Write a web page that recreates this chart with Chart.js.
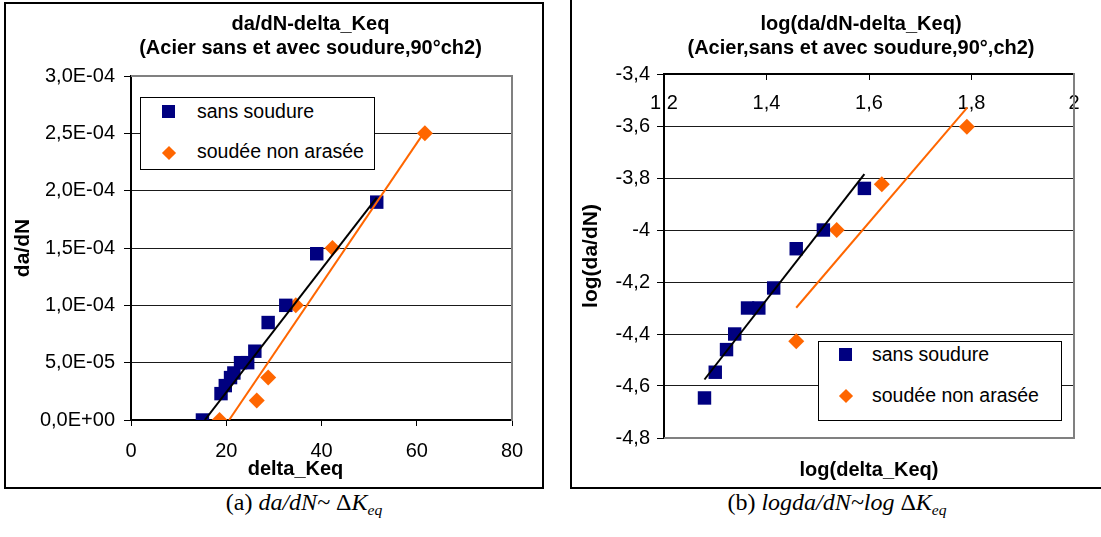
<!DOCTYPE html>
<html lang="fr">
<head>
<meta charset="utf-8">
<title>da/dN - delta_Keq</title>
<script src="https://cdn.jsdelivr.net/npm/chart.js@4.4.0/dist/chart.umd.min.js"></script>
<style>
  body { margin:0; width:1101px; height:537px; overflow:hidden; background:#fff; position:relative;
         font-family:"Liberation Sans", Arial, sans-serif; }
  .cadre { position:absolute; border:2px solid #000; box-sizing:border-box; }
  #cadreA { left:4px; top:2px; width:540px; height:487px; }
  #cadreB { left:570px; top:-2px; width:540px; height:491px; }
  canvas { position:absolute; }
  #grapheA { left:6px; top:4px; }
  #grapheB { left:572px; top:0px; }
  .legende { position:absolute; border:1px solid #000; background:#fff; box-sizing:border-box; }
  .legende span { position:absolute; white-space:nowrap; font-size:19.5px; line-height:19.5px; color:#000; }
  .legende .carre { width:13px; height:13px; background:#000080; }
  .legende .losange { width:10px; height:10px; background:#FF6600; transform:rotate(45deg); }
  #legA { left:140px; top:97px; width:235px; height:73px; }
  #legB { left:818px; top:341px; width:244px; height:80px; }
  .legende-fig { position:absolute; top:490px; width:300px; text-align:center; white-space:nowrap;
                 font-family:"Liberation Serif", "Times New Roman", serif; font-size:24px; line-height:24px; }
  .legende-fig sub { font-size:0.65em; vertical-align:-0.35em; line-height:0; }
</style>
</head>
<body>
<div class="cadre" id="cadreA"></div>
<div class="cadre" id="cadreB"></div>
<canvas id="grapheA" width="536" height="483"></canvas>
<canvas id="grapheB" width="529" height="487"></canvas>

<div class="legende" id="legA">
  <span class="carre" style="left:21px; top:7px;"></span>
  <span style="left:56px; top:4px;">sans soudure</span>
  <span class="losange" style="left:23px; top:50px;"></span>
  <span style="left:56px; top:44px;">soudée non arasée</span>
</div>
<div class="legende" id="legB">
  <span class="carre" style="left:20px; top:6px;"></span>
  <span style="left:53px; top:3px;">sans soudure</span>
  <span class="losange" style="left:22px; top:49px;"></span>
  <span style="left:53px; top:44px;">soudée non arasée</span>
</div>

<div class="legende-fig" style="left:154px;">(a) <i>da/dN~</i> Δ<i>K<sub>eq</sub></i></div>
<div class="legende-fig" style="left:687px;">(b) <i>logda/dN~log</i> Δ<i>K<sub>eq</sub></i></div>

<script>
// ---- graphe (a) : da/dN en fonction de delta_Keq ----
const keqSans = [15.0, 18.9, 19.8, 20.9, 21.6, 23.0, 24.5, 26.0, 28.8, 32.5, 39.0, 51.6];
const dadnSans = [0, 2.3e-5, 3.0e-5, 3.7e-5, 4.1e-5, 5.0e-5, 5.0e-5, 6.0e-5, 8.5e-5, 1.0e-4, 1.45e-4, 1.9e-4];
const keqSoudee = [18.6, 26.4, 28.8, 34.6, 42.3, 61.7];
const dadnSoudee = [0, 1.7e-5, 3.7e-5, 1.0e-4, 1.5e-4, 2.5e-4];
// droites de tendance (extremites)
const tendSansKeq = [15.5, 51.6];
const tendSansDadn = [0, 1.94e-4];
const tendSoudeeKeq = [20.6, 61.9];
const tendSoudeeDadn = [0, 2.53e-4];

// ---- graphe (b) : log(da/dN) en fonction de log(delta_Keq) ----
const logKeqSans = [1.279, 1.300, 1.322, 1.338, 1.363, 1.385, 1.414, 1.458, 1.511, 1.591];
const logDadnSans = [-4.646, -4.547, -4.46, -4.40, -4.30, -4.30, -4.223, -4.072, -4.00, -3.84];
const logKeqSoudee = [1.458, 1.537, 1.625, 1.791];
const logDadnSoudee = [-4.428, -4.00, -3.824, -3.603];
const tendLogSansKeq = [1.279, 1.591];
const tendLogSansDadn = [-4.575, -3.785];
const tendLogSoudeeKeq = [1.458, 1.792];
const tendLogSoudeeDadn = [-4.299, -3.528];

// graduations
const ticksAx = [0, 20, 40, 60, 80];
const ticksAy = [0, 5e-5, 1e-4, 1.5e-4, 2e-4, 2.5e-4, 3e-4];
const etiqAy = ['0,0E+00', '5,0E-05', '1,0E-04', '1,5E-04', '2,0E-04', '2,5E-04', '3,0E-04'];
const ticksBx = [1.2, 1.4, 1.6, 1.8, 2];
const etiqBx = ['1,2', '1,4', '1,6', '1,8', '2'];
const ticksBy = [-4.8, -4.6, -4.4, -4.2, -4, -3.8, -3.6, -3.4];
const etiqBy = ['-4,8', '-4,6', '-4,4', '-4,2', '-4', '-3,8', '-3,6', '-3,4'];

const police = '"Liberation Sans", Arial, sans-serif';
Chart.defaults.font.family = police;
Chart.defaults.color = '#000';

function pts(xs, ys) {
  return xs.map((x, i) => ({ x: x, y: ys[i] }));
}

// cadre gris de la zone de tracé (cotés choisis)
const cadreGris = {
  id: 'cadreGris',
  beforeDatasetsDraw(chart, args, opts) {
    const ctx = chart.ctx, a = chart.chartArea;
    ctx.save();
    ctx.strokeStyle = '#808080';
    ctx.lineWidth = 2;
    ctx.beginPath();
    (opts.cotes || []).forEach(function (c) {
      if (c == 'haut') { ctx.moveTo(a.left, a.top); ctx.lineTo(a.right + 1, a.top); }
      if (c == 'droite') { ctx.moveTo(a.right, a.top - 1); ctx.lineTo(a.right, a.bottom + 1); }
      if (c == 'bas') { ctx.moveTo(a.left, a.bottom); ctx.lineTo(a.right + 1, a.bottom); }
    });
    ctx.stroke();
    ctx.restore();
  }
};

// titres décalés comme dans Excel (le titre n'est pas centré sur la zone de tracé)
const titresDecales = {
  id: 'titresDecales',
  afterLayout(chart, args, opts) {
    if (opts.titre && chart.titleBlock) {
      chart.titleBlock.left += opts.titre;
      chart.titleBlock.right += opts.titre;
    }
  },
  afterDraw(chart, args, opts) {
    const t = opts.titreX;
    if (!t) return;
    const ctx = chart.ctx, a = chart.chartArea;
    ctx.save();
    ctx.font = 'bold 20px ' + police;
    ctx.fillStyle = '#000';
    ctx.textAlign = 'center';
    ctx.textBaseline = 'middle';
    ctx.fillText(t.texte, (a.left + a.right) / 2 + t.dx, chart.scales.x.bottom - t.bas);
    ctx.restore();
  }
};

function jeux(tSx, tSy, tWx, tWy, sx, sy, wx, wy) {
  return [
    { data: pts(tSx, tSy), showLine: true, borderColor: '#000', borderWidth: 2, pointRadius: 0 },
    { data: pts(tWx, tWy), showLine: true, borderColor: '#FF6600', borderWidth: 2, pointRadius: 0 },
    { label: 'sans soudure', data: pts(sx, sy), pointStyle: 'rect', pointRadius: 9.5,
      backgroundColor: '#000080', borderColor: '#000080', borderWidth: 0 },
    { label: 'soudée non arasée', data: pts(wx, wy), pointStyle: 'rectRot', pointRadius: 8,
      backgroundColor: '#FF6600', borderColor: '#FF6600', borderWidth: 0 }
  ];
}

const fontTick = { family: police, size: 20 };
const fontTitre = { family: police, size: 20, weight: 'bold' };
const fontTitreY = { family: police, size: 21, weight: 'bold' };

// Graphe (a)
new Chart(document.getElementById('grapheA'), {
  type: 'scatter',
  data: { datasets: jeux(tendSansKeq, tendSansDadn, tendSoudeeKeq, tendSoudeeDadn,
                         keqSans, dadnSans, keqSoudee, dadnSoudee) },
  options: {
    responsive: false,
    animation: false,
    layout: { padding: { left: 0, right: 30, top: 0, bottom: 0 } },
    plugins: {
      legend: { display: false },
      tooltip: { enabled: false },
      title: {
        display: true, fullSize: false, color: '#000',
        text: ['da/dN-delta_Keq', '(Acier sans et avec soudure,90°ch2)'],
        font: { family: police, size: 20, weight: 'bold', lineHeight: 1.2 },
        padding: { top: 8.1, bottom: 15.9 }
      },
      cadreGris: { cotes: ['haut', 'droite'] },
      titresDecales: { titre: -11, titreX: { texte: 'delta_Keq', dx: -26, bas: 18 } }
    },
    scales: {
      x: {
        type: 'linear', position: 'bottom', min: 0, max: 80,
        afterBuildTicks: s => { s.ticks = ticksAx.map(v => ({ value: v })); },
        afterFit: s => { s.height = 67; },
        grid: { drawOnChartArea: false, color: '#000', tickLength: 6 },
        border: { color: '#000', width: 2 },
        ticks: { color: '#000', font: fontTick, padding: 13, maxRotation: 0, autoSkip: false }
      },
      y: {
        type: 'linear', min: 0, max: 3e-4,
        afterBuildTicks: s => { s.ticks = ticksAy.map(v => ({ value: v })); },
        afterFit: s => { s.width = 125; },
        grid: { color: '#1a1a1a', tickColor: '#000', tickLength: 7 },
        border: { color: '#000', width: 2 },
        ticks: { color: '#000', font: fontTick, padding: 9, autoSkip: false, callback: (v, i) => etiqAy[i] },
        title: { display: true, text: 'da/dN', color: '#000', font: fontTitreY, padding: { top: 4.4, bottom: 0 } }
      }
    }
  },
  plugins: [cadreGris, titresDecales]
});

// Graphe (b)
new Chart(document.getElementById('grapheB'), {
  type: 'scatter',
  data: { datasets: jeux(tendLogSansKeq, tendLogSansDadn, tendLogSoudeeKeq, tendLogSoudeeDadn,
                         logKeqSans, logDadnSans, logKeqSoudee, logDadnSoudee) },
  options: {
    responsive: false,
    animation: false,
    layout: { padding: { left: 0, right: 27, top: 0, bottom: 0 } },
    plugins: {
      legend: { display: false },
      tooltip: { enabled: false },
      title: {
        display: true, fullSize: false, color: '#000',
        text: ['log(da/dN-delta_Keq)', '(Acier,sans et avec soudure,90°,ch2)'],
        font: { family: police, size: 20, weight: 'bold', lineHeight: 1.2 },
        padding: { top: 12.8, bottom: 0 }
      },
      cadreGris: { cotes: ['droite', 'bas'] },
      titresDecales: { titre: -8 }
    },
    scales: {
      x: {
        type: 'linear', position: 'top', min: 1.2, max: 2,
        afterBuildTicks: s => { s.ticks = ticksBx.map(v => ({ value: v })); },
        afterFit: s => { s.height = 13.2; },
        grid: { drawOnChartArea: false, color: '#000', tickLength: -6 },
        border: { color: '#000', width: 2 },
        // étiquettes sous l'axe, à l'intérieur de la zone de tracé
        ticks: { color: '#000', font: fontTick, mirror: true, padding: 17, maxRotation: 0, autoSkip: false,
                 callback: (v, i) => etiqBx[i] }
      },
      xb: {
        type: 'linear', axis: 'x', position: 'bottom', min: 0, max: 1,
        afterFit: s => { s.height = 49; },
        grid: { display: false },
        border: { display: false },
        ticks: { display: false },
        title: { display: true, text: 'log(delta_Keq)', color: '#000', font: fontTitre, padding: { top: 0, bottom: 4.3 } }
      },
      y: {
        type: 'linear', min: -4.8, max: -3.4,
        afterBuildTicks: s => { s.ticks = ticksBy.map(v => ({ value: v })); },
        afterFit: s => { s.width = 92; },
        grid: { color: '#1a1a1a', tickColor: '#000', tickLength: 7 },
        border: { color: '#000', width: 2 },
        ticks: { color: '#000', font: fontTick, padding: 7, autoSkip: false, callback: (v, i) => etiqBy[i] },
        title: { display: true, text: 'log(da/dN)', color: '#000', font: fontTitreY, padding: { top: 6.9, bottom: 0 } }
      }
    }
  },
  plugins: [cadreGris, titresDecales]
});
</script>
</body>
</html>
